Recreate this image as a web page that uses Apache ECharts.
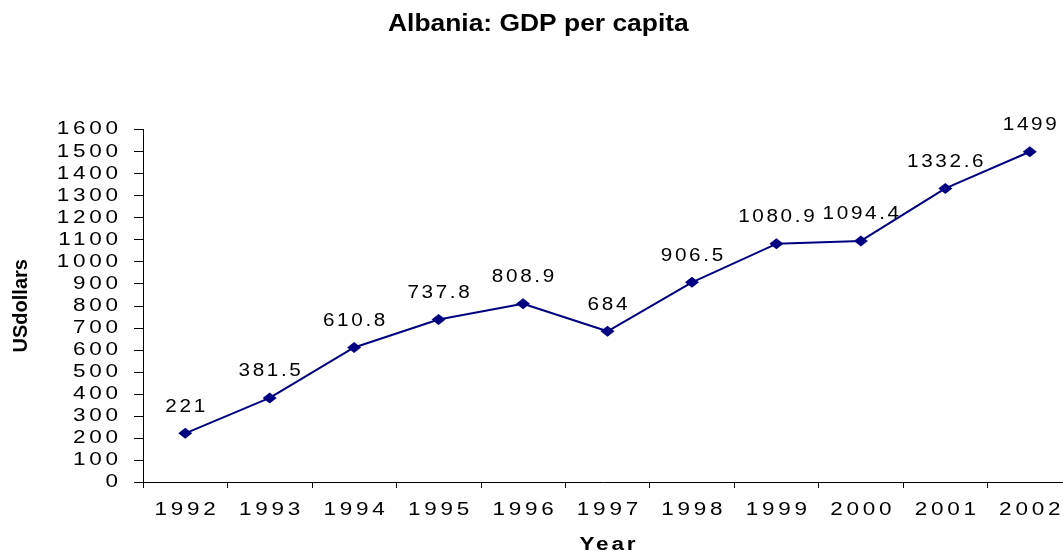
<!doctype html>
<html>
<head>
<meta charset="UTF-8">
<title>Albania: GDP per capita</title>
<script src="https://cdn.jsdelivr.net/npm/echarts@6/dist/echarts.min.js"></script>
<style>
  html, body { margin: 0; padding: 0; background: #fff; }
  #chart { width: 1063px; height: 551px; }
</style>
</head>
<body>
<div id="chart"></div>
<script type="text/javascript">
	var years = ['1992', '1993', '1994', '1995', '1996', '1997', '1998', '1999', '2000', '2001', '2002'];
	var gdp = [221, 381.5, 610.8, 737.8, 808.9, 684, 906.5, 1080.9, 1094.4, 1332.6, 1499];

	// the original chart's text is drawn wide (stretched and tracked),
	// so widen glyphs around their anchor point when the canvas draws them
	function textLook(font) {
		var bold = /bold|700/.test(font);
		if (bold && font.indexOf('24px') >= 0) return { sx: 1.1, ls: 0 };
		if (bold && font.indexOf('18px') >= 0) return { sx: 1.25, ls: 2.2 };
		if (bold) return { sx: 1, ls: 0 };
		if (font.indexOf('Arial') >= 0) return { sx: 1.15, ls: 2.3 };
		return { sx: 1.25, ls: 3 };
	}
	var fillText = CanvasRenderingContext2D.prototype.fillText;
	CanvasRenderingContext2D.prototype.fillText = function(text, x, y) {
		var look = textLook(this.font);
		var trail = look.ls * look.sx;
		if (this.textAlign === 'center') x += trail / 2;
		else if (this.textAlign === 'right' || this.textAlign === 'end') x += trail;
		this.save();
		this.translate(x, y);
		this.scale(look.sx, 1);
		this.letterSpacing = look.ls + 'px';
		fillText.call(this, text, 0, 0);
		this.restore();
	};

	var tickFont = '"Liberation Sans", sans-serif';
	var labelFont = '"Liberation Sans", Arial, sans-serif';
	var chart = echarts.init(document.getElementById('chart'));
	var option = {
		backgroundColor: '#ffffff',
		animation: false,
		title: {
			text: 'Albania: GDP per capita',
			left: 388,
			top: 12,
			padding: 0,
			textStyle: {
				fontFamily: tickFont,
				fontSize: 24,
				fontWeight: 'bold',
				color: '#000'
			}
		},
		grid: {
			left: 143,
			top: 129.5,
			bottom: 69,
			right: -9,
			outerBoundsMode: 'none'
		},
		xAxis: {
			type: 'category',
			data: years,
			boundaryGap: true,
			name: 'Year',
			nameLocation: 'middle',
			nameGap: 54,
			nameTextStyle: {
				fontFamily: tickFont,
				fontSize: 18,
				fontWeight: 'bold',
				color: '#000'
			},
			axisLine: { lineStyle: { color: '#000', width: 1 } },
			axisTick: { show: true, length: 6, lineStyle: { color: '#000' } },
			axisLabel: {
				fontFamily: tickFont,
				fontSize: 18,
				color: '#000',
				margin: 19
			},
			splitLine: { show: false }
		},
		yAxis: {
			type: 'value',
			min: 0,
			max: 1600,
			interval: 100,
			name: 'USdollars',
			nameLocation: 'middle',
			nameGap: 112,
			nameRotate: 90,
			nameTextStyle: {
				fontFamily: tickFont,
				fontSize: 20,
				fontWeight: 'bold',
				color: '#000'
			},
			axisLine: { show: true, lineStyle: { color: '#000', width: 1 } },
			axisTick: { show: true, inside: false, length: 9, lineStyle: { color: '#000' } },
			axisLabel: {
				fontFamily: tickFont,
				fontSize: 18,
				color: '#000',
				margin: 25,
				formatter: function(v) { return String(v); }
			},
			splitLine: { show: false }
		},
		series: [{
			name: 'GDP per capita',
			type: 'line',
			data: gdp,
			symbol: 'diamond',
			symbolSize: [14, 11],
			lineStyle: { color: '#000080', width: 2 },
			itemStyle: { color: '#000080' },
			label: {
				show: true,
				position: 'top',
				distance: 12,
				fontFamily: labelFont,
				fontSize: 18,
				color: '#000'
			}
		}]
	};
	chart.setOption(option);
</script>
</body>
</html>
